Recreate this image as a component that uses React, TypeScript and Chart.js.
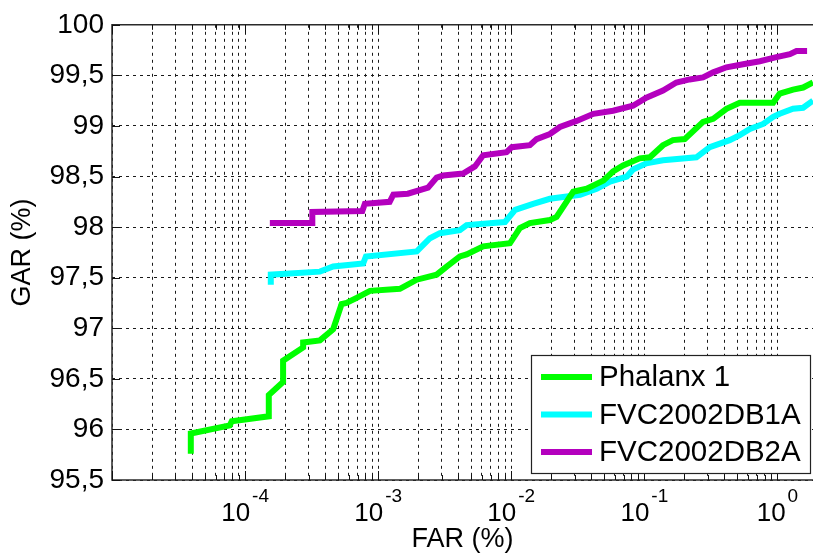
import React, { useEffect, useRef } from 'react';
import { Chart, registerables } from 'chart.js';

Chart.register(...registerables);

const seriesNames = ['Phalanx 1', 'FVC2002DB1A', 'FVC2002DB2A'];
const seriesColors = ['#00FF00', '#00FFFF', '#B400BE'];

const phalanxFar = [3.91e-5, 3.91e-5, 7.67e-5, 7.94e-5, 1.507e-4, 1.507e-4, 1.93e-4, 1.93e-4, 2.73e-4, 2.73e-4, 3.65e-4, 4.59e-4, 5.31e-4, 5.78e-4, 6.89e-4, 8.68e-4, 1.456e-3, 1.95e-3, 2.75e-3, 3.27e-3, 4.11e-3, 4.62e-3, 6.15e-3, 9.77e-3, 1.16e-2, 1.38e-2, 1.95e-2, 2.19e-2, 2.69e-2, 2.92e-2, 3.69e-2, 4.92e-2, 5.82e-2, 6.92e-2, 9.23e-2, 0.110, 0.138, 0.164, 0.201, 0.276, 0.329, 0.414, 0.521, 0.929, 1.04, 1.31, 1.56, 1.85, 2.1];
const phalanxGar = [95.76, 95.96, 96.04, 96.08, 96.13, 96.34, 96.47, 96.68, 96.81, 96.86, 96.88, 96.99, 97.24, 97.25, 97.30, 97.37, 97.39, 97.48, 97.53, 97.61, 97.71, 97.73, 97.81, 97.84, 97.99, 98.04, 98.07, 98.10, 98.28, 98.35, 98.38, 98.46, 98.55, 98.61, 98.68, 98.69, 98.81, 98.86, 98.87, 99.04, 99.07, 99.17, 99.23, 99.23, 99.32, 99.36, 99.38, 99.43, 99.46];

const db1Far = [1.56e-4, 1.56e-4, 3.65e-4, 4.59e-4, 7.71e-4, 8.09e-4, 1.95e-3, 2.45e-3, 2.91e-3, 4.11e-3, 4.62e-3, 8.97e-3, 1.07e-2, 1.46e-2, 1.95e-2, 3.29e-2, 4.39e-2, 5.52e-2, 7.38e-2, 8.22e-2, 0.1035, 0.138, 0.246, 0.310, 0.438, 0.521, 0.621, 0.782, 0.929, 1.04, 1.31, 1.56, 1.85, 2.1];
const db1Gar = [97.43, 97.53, 97.56, 97.61, 97.64, 97.71, 97.76, 97.89, 97.94, 97.97, 98.02, 98.05, 98.17, 98.23, 98.28, 98.32, 98.38, 98.45, 98.50, 98.57, 98.63, 98.66, 98.69, 98.79, 98.86, 98.91, 98.97, 99.02, 99.09, 99.12, 99.17, 99.18, 99.25, 99.28];

const db2Far = [1.535e-4, 3.20e-4, 3.20e-4, 7.60e-4, 7.94e-4, 1.22e-3, 1.30e-3, 1.67e-3, 2.37e-3, 2.75e-3, 3.08e-3, 4.34e-3, 5.33e-3, 6.15e-3, 9.22e-3, 1.01e-2, 1.38e-2, 1.55e-2, 1.95e-2, 2.32e-2, 3.10e-2, 4.14e-2, 5.82e-2, 8.22e-2, 0.1035, 0.138, 0.174, 0.219, 0.276, 0.329, 0.414, 0.552, 0.738, 0.982, 1.24, 1.39, 1.67];
const db2Gar = [98.04, 98.04, 98.15, 98.16, 98.23, 98.25, 98.32, 98.33, 98.39, 98.49, 98.51, 98.53, 98.60, 98.71, 98.74, 98.79, 98.81, 98.87, 98.92, 98.99, 99.05, 99.12, 99.15, 99.20, 99.28, 99.35, 99.43, 99.46, 99.48, 99.53, 99.58, 99.61, 99.64, 99.68, 99.71, 99.74, 99.74];

const xDecadeExponents = [-5, -4, -3, -2, -1, 0];
const xLabelExponents = [-4, -3, -2, -1, 0];
const xMin = 1e-5;
const xMax = 1.85;
const yMin = 95.5;
const yMax = 100;
const yStep = 0.5;
const xTitle = 'FAR (%)';
const yTitle = 'GAR (%)';

const FONT = '"Liberation Sans", Arial, Helvetica, sans-serif';

const farSeries = [phalanxFar, db1Far, db2Far];
const garSeries = [phalanxGar, db1Gar, db2Gar];

const overlayPlugin = {
  id: 'matlabOverlay',
  afterDraw(chart: any) {
    const { ctx, chartArea, scales } = chart;
    const xs = scales.x;
    const ys = scales.y;
    const { left, right, top, bottom } = chartArea;
    ctx.save();

    // frame
    ctx.strokeStyle = '#2a2a2a';
    ctx.lineWidth = 1.5;
    ctx.setLineDash([]);
    ctx.beginPath();
    ctx.moveTo(right + 2, top);
    ctx.lineTo(left, top);
    ctx.lineTo(left, bottom);
    ctx.lineTo(right + 2, bottom);
    ctx.stroke();

    // tick marks (inward)
    ctx.lineWidth = 1;
    ctx.strokeStyle = '#111';
    ctx.beginPath();
    xDecadeExponents.forEach((e) => {
      for (let s = 1; s <= 9; s++) {
        const v = s * Math.pow(10, e);
        if (v < xMin || v > xMax) continue;
        const px = Math.round(xs.getPixelForValue(v)) + 0.5;
        const len = s === 1 ? 9 : 5;
        ctx.moveTo(px, bottom);
        ctx.lineTo(px, bottom - len);
        ctx.moveTo(px, top);
        ctx.lineTo(px, top + len);
      }
    });
    for (let v = yMin; v <= yMax + 1e-9; v += yStep) {
      const py = Math.round(ys.getPixelForValue(v)) + 0.5;
      ctx.moveTo(left, py);
      ctx.lineTo(left + 8, py);
    }
    ctx.stroke();

    // x tick labels 10^e
    ctx.fillStyle = '#000';
    ctx.textBaseline = 'alphabetic';
    ctx.textAlign = 'left';
    xLabelExponents.forEach((e) => {
      const px = xs.getPixelForValue(Math.pow(10, e));
      const base = '10';
      const sup = String(e);
      ctx.font = `26px ${FONT}`;
      const wb = ctx.measureText(base).width;
      ctx.font = `19px ${FONT}`;
      const ws = ctx.measureText(sup).width;
      const total = wb + 2 + ws;
      const x0 = px - total / 2;
      ctx.font = `26px ${FONT}`;
      ctx.fillText(base, x0, 521);
      ctx.font = `19px ${FONT}`;
      ctx.fillText(sup, x0 + wb + 2, 502);
    });

    // axis titles
    ctx.font = `27px ${FONT}`;
    ctx.textAlign = 'center';
    ctx.fillText(xTitle, (left + right) / 2, 547);
    ctx.save();
    ctx.translate(30, (top + bottom) / 2);
    ctx.rotate(-Math.PI / 2);
    ctx.textBaseline = 'alphabetic';
    ctx.fillText(yTitle, 0, 0);
    ctx.restore();

    // legend
    const lx = 531.5, ly = 355.5, lw = 279, lh = 118;
    ctx.fillStyle = '#fff';
    ctx.fillRect(lx, ly, lw, lh);
    ctx.strokeStyle = '#222';
    ctx.lineWidth = 1.2;
    ctx.strokeRect(lx, ly, lw, lh);
    const rows = [377, 414.5, 452];
    chart.data.datasets.forEach((ds: any, i: number) => {
      const y = rows[i];
      ctx.strokeStyle = ds.borderColor;
      ctx.lineWidth = 6;
      ctx.beginPath();
      ctx.moveTo(541, y);
      ctx.lineTo(592, y);
      ctx.stroke();
      ctx.fillStyle = '#000';
      ctx.font = `29.5px ${FONT}`;
      ctx.textAlign = 'left';
      ctx.textBaseline = 'middle';
      ctx.fillText(ds.label, 599, y + 1);
    });

    ctx.restore();
  },
};

export default function App() {
  const canvasRef = useRef<HTMLCanvasElement | null>(null);

  useEffect(() => {
    if (!canvasRef.current) return;
    const datasets = seriesNames.map((name, i) => ({
      label: name,
      data: farSeries[i].map((f, j) => ({ x: f, y: garSeries[i][j] })),
      borderColor: seriesColors[i],
      backgroundColor: seriesColors[i],
      borderWidth: 6,
      pointRadius: 0,
      showLine: true,
      fill: false,
      tension: 0,
      borderCapStyle: 'butt' as const,
      borderJoinStyle: 'miter' as const,
    }));

    const chart = new Chart(canvasRef.current, {
      type: 'scatter',
      data: { datasets },
      options: {
        animation: false,
        responsive: false,
        devicePixelRatio: 1,
        layout: { padding: { top: 22, right: 0, left: 0, bottom: 0 } },
        plugins: { legend: { display: false }, tooltip: { enabled: false } },
        scales: {
          x: {
            type: 'logarithmic',
            min: xMin,
            max: xMax,
            afterBuildTicks: (scale: any) => {
              const ticks: any[] = [];
              xDecadeExponents.forEach((e) => {
                for (let s = 1; s <= 9; s++) {
                  const v = s * Math.pow(10, e);
                  if (v >= xMin && v <= xMax) ticks.push({ value: v });
                }
              });
              scale.ticks = ticks;
            },
            afterFit: (scale: any) => {
              scale.height = 76;
            },
            ticks: { display: false, autoSkip: false },
            grid: { color: '#1a1a1a', lineWidth: 1, drawTicks: false },
            border: { display: false, dash: [3, 4] },
          },
          y: {
            type: 'linear',
            min: yMin,
            max: yMax,
            afterFit: (scale: any) => {
              scale.width = 112;
            },
            ticks: {
              stepSize: yStep,
              padding: 8,
              color: '#000',
              font: { family: FONT, size: 28 },
              callback: (v: any) => String(Math.round(Number(v) * 10) / 10).replace('.', ','),
            },
            grid: { color: '#1a1a1a', lineWidth: 1, drawTicks: false },
            border: { display: false, dash: [3, 4] },
          },
        },
      },
      plugins: [overlayPlugin],
    });
    return () => chart.destroy();
  }, []);

  return (
    <div style={{ position: 'absolute', left: 0, top: 0, width: 813, height: 556, background: '#fff' }}>
      <canvas ref={canvasRef} width={813} height={556} style={{ display: 'block' }} />
    </div>
  );
}
